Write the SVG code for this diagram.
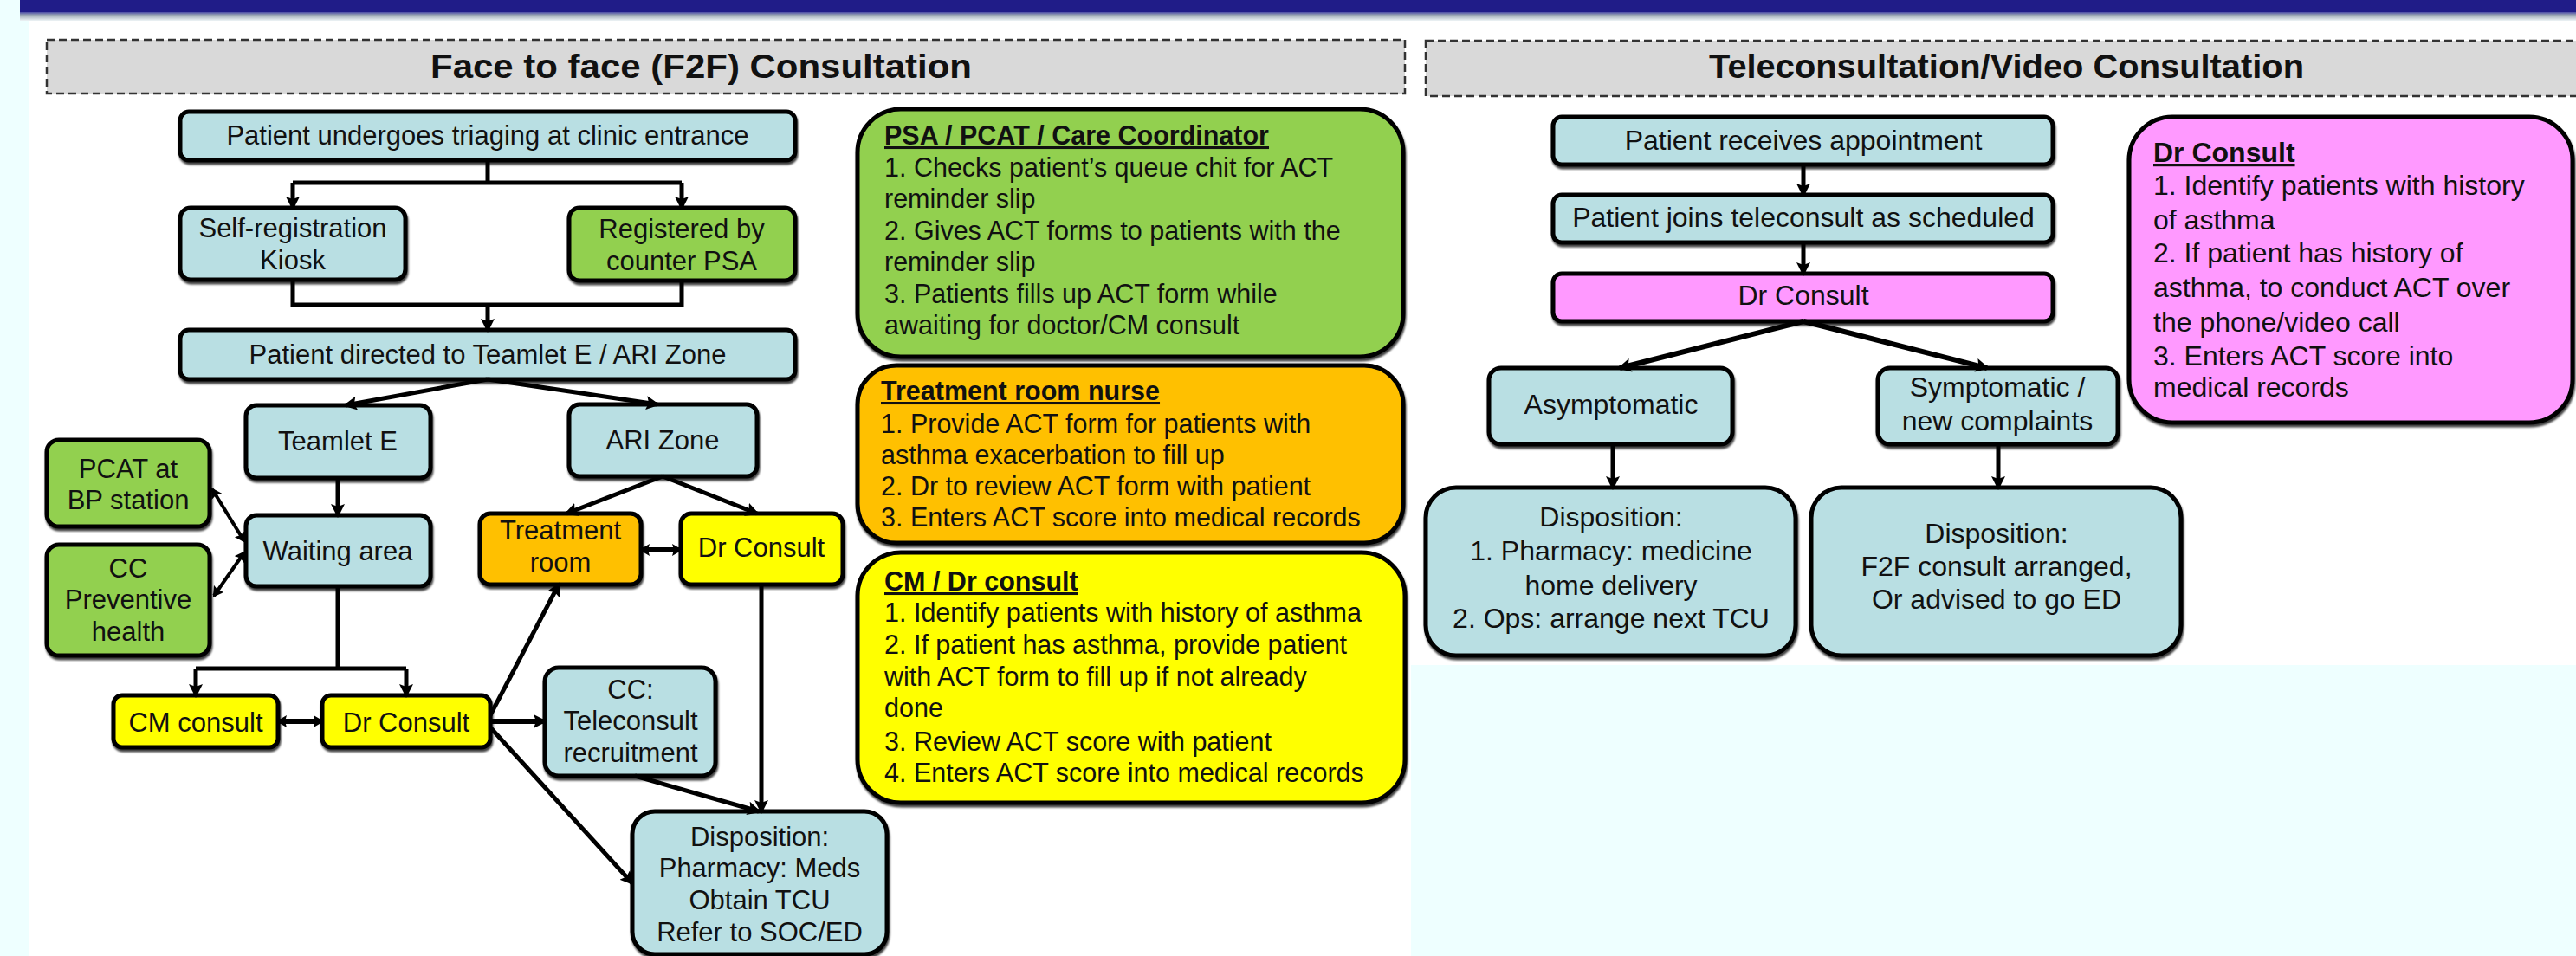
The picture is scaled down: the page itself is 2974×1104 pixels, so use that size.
<svg xmlns="http://www.w3.org/2000/svg" width="2974" height="1104" viewBox="0 0 2974 1104">
<defs>
<linearGradient id="barShade" x1="0" y1="0" x2="0" y2="1">
<stop offset="0" stop-color="#4a4aa6"/>
<stop offset="0.35" stop-color="#9aa6b4"/>
<stop offset="1" stop-color="#eef4f6"/>
</linearGradient>
<filter id="sh" x="-5%" y="-5%" width="110%" height="125%">
<feDropShadow dx="1" dy="3" stdDeviation="1" flood-color="#000" flood-opacity="0.75"/>
</filter>
<marker id="ah" viewBox="0 0 16 16" refX="13" refY="8" markerWidth="16" markerHeight="16" markerUnits="userSpaceOnUse" orient="auto-start-reverse">
<path d="M0,0 L16,8 L0,16 L3,8 z" fill="#000"/>
</marker>
<marker id="ah2" viewBox="0 0 12 14" refX="10" refY="7" markerWidth="12" markerHeight="14" markerUnits="userSpaceOnUse" orient="auto-start-reverse">
<path d="M0,0 L12,7 L0,14 L2,7 z" fill="#000"/>
</marker>
</defs>
<style>
.nd rect{stroke:#000;stroke-width:5;filter:url(#sh)}
.blue{fill:#B9DFE3}
.green{fill:#92D050}
.orange{fill:#FFC000}
.yellow{fill:#FFFF00}
.pink{fill:#FF99FF}
text{font-family:"Liberation Sans",Arial,sans-serif;fill:#111}
.t31{font-size:31px;text-anchor:middle}
.t32{font-size:32px;text-anchor:middle}
.tb{font-size:30.5px}
.tbr{font-size:32px}
.hd{font-weight:bold;text-decoration:underline}
.title{font-size:39px;font-weight:bold}
.hdr{fill:#D9D9D9;stroke:#333;stroke-width:2.5;stroke-dasharray:9 5}
.cn path{fill:none;stroke:#000;stroke-width:5}
.cn .thin{stroke-width:4}
.cn .thick{stroke-width:6}
.ae{marker-end:url(#ah)}
.ab{marker-start:url(#ah2);marker-end:url(#ah2)}
</style>

<!-- background -->
<rect x="0" y="0" width="2974" height="1104" fill="#EEFFFF"/>
<rect x="33" y="23" width="2941" height="1081" fill="#FFFFFF"/>
<rect x="1629" y="768" width="1345" height="336" fill="#EEFFFF"/>
<rect x="23" y="0" width="2951" height="16" fill="#201C88"/>
<rect x="23" y="14" width="2951" height="10" fill="url(#barShade)"/>

<!-- section headers -->
<g id="header-f2f">
<rect class="hdr" x="54" y="46" width="1568" height="62"/>
<text class="title" x="497" y="90" textLength="625" lengthAdjust="spacingAndGlyphs">Face to face (F2F) Consultation</text>
</g>
<g id="header-tele">
<rect class="hdr" x="1646" y="47" width="1340" height="64"/>
<text class="title" x="1973" y="90" textLength="687" lengthAdjust="spacingAndGlyphs">Teleconsultation/Video Consultation</text>
</g>

<!-- F2F nodes -->
<g id="n-triage" class="nd">
<rect class="blue" x="208" y="129" width="710" height="56" rx="10"/>
<text class="t31" x="563" y="167">Patient undergoes triaging at clinic entrance</text>
</g>
<g id="n-kiosk" class="nd">
<rect class="blue" x="208" y="240" width="260" height="83" rx="12"/>
<text class="t31" x="338" y="274">Self-registration</text>
<text class="t31" x="338" y="311">Kiosk</text>
</g>
<g id="n-counter" class="nd">
<rect class="green" x="657" y="240" width="261" height="84" rx="12"/>
<text class="t31" x="787" y="275">Registered by</text>
<text class="t31" x="787" y="312">counter PSA</text>
</g>
<g id="n-directed" class="nd">
<rect class="blue" x="208" y="381" width="710" height="57" rx="10"/>
<text class="t31" x="563" y="420">Patient directed to Teamlet E / ARI Zone</text>
</g>
<g id="n-teamlet" class="nd">
<rect class="blue" x="284" y="468" width="213" height="84" rx="12"/>
<text class="t31" x="390" y="520">Teamlet E</text>
</g>
<g id="n-ari" class="nd">
<rect class="blue" x="657" y="467" width="217" height="83" rx="12"/>
<text class="t31" x="765" y="519">ARI Zone</text>
</g>
<g id="n-pcat" class="nd">
<rect class="green" x="54" y="508" width="188" height="100" rx="14"/>
<text class="t31" x="148" y="552">PCAT at</text>
<text class="t31" x="148" y="588">BP station</text>
</g>
<g id="n-waiting" class="nd">
<rect class="blue" x="284" y="595" width="213" height="82" rx="12"/>
<text class="t31" x="390" y="647">Waiting area</text>
</g>
<g id="n-cc-prev" class="nd">
<rect class="green" x="54" y="629" width="188" height="128" rx="14"/>
<text class="t31" x="148" y="667">CC</text>
<text class="t31" x="148" y="703">Preventive</text>
<text class="t31" x="148" y="740">health</text>
</g>
<g id="n-treatment" class="nd">
<rect class="orange" x="554" y="593" width="186" height="82" rx="12"/>
<text class="t31" x="647" y="623">Treatment</text>
<text class="t31" x="647" y="660">room</text>
</g>
<g id="n-dr-ari" class="nd">
<rect class="yellow" x="786" y="593" width="187" height="82" rx="12"/>
<text class="t31" x="879" y="643">Dr Consult</text>
</g>
<g id="n-cm" class="nd">
<rect class="yellow" x="131" y="803" width="190" height="60" rx="10"/>
<text class="t31" x="226" y="845">CM consult</text>
</g>
<g id="n-dr-teamlet" class="nd">
<rect class="yellow" x="372" y="803" width="194" height="60" rx="10"/>
<text class="t31" x="469" y="845">Dr Consult</text>
</g>
<g id="n-cc-tele" class="nd">
<rect class="blue" x="629" y="771" width="197" height="125" rx="16"/>
<text class="t31" x="728" y="807">CC:</text>
<text class="t31" x="728" y="843">Teleconsult</text>
<text class="t31" x="728" y="880">recruitment</text>
</g>
<g id="n-disposition-f2f" class="nd">
<rect class="blue" x="730" y="937" width="294" height="165" rx="26"/>
<text class="t31" x="877" y="977">Disposition:</text>
<text class="t31" x="877" y="1013">Pharmacy: Meds</text>
<text class="t31" x="877" y="1050">Obtain TCU</text>
<text class="t31" x="877" y="1087">Refer to SOC/ED</text>
</g>

<!-- F2F role notes -->
<g id="note-psa" class="nd">
<rect class="green" x="990" y="126" width="630" height="286" rx="50"/>
<text class="tb hd" x="1021" y="167">PSA / PCAT / Care Coordinator</text>
<text class="tb" x="1021" y="203.5">1. Checks patient’s queue chit for ACT</text>
<text class="tb" x="1021" y="240">reminder slip</text>
<text class="tb" x="1021" y="276.5">2. Gives ACT forms to patients with the</text>
<text class="tb" x="1021" y="313">reminder slip</text>
<text class="tb" x="1021" y="349.5">3. Patients fills up ACT form while</text>
<text class="tb" x="1021" y="386">awaiting for doctor/CM consult</text>
</g>
<g id="note-nurse" class="nd">
<rect class="orange" x="990" y="422" width="630" height="205" rx="45"/>
<text class="tb hd" x="1017" y="462">Treatment room nurse</text>
<text class="tb" x="1017" y="500">1. Provide ACT form for patients with</text>
<text class="tb" x="1017" y="536">asthma exacerbation to fill up</text>
<text class="tb" x="1017" y="572">2. Dr to review ACT form with patient</text>
<text class="tb" x="1017" y="608">3. Enters ACT score into medical records</text>
</g>
<g id="note-cm-dr" class="nd">
<rect class="yellow" x="990" y="638" width="632" height="289" rx="50"/>
<text class="tb hd" x="1021" y="682">CM / Dr consult</text>
<text class="tb" x="1021" y="718">1. Identify patients with history of asthma</text>
<text class="tb" x="1021" y="755">2. If patient has asthma, provide patient</text>
<text class="tb" x="1021" y="792">with ACT form to fill up if not already</text>
<text class="tb" x="1021" y="828">done</text>
<text class="tb" x="1021" y="867">3. Review ACT score with patient</text>
<text class="tb" x="1021" y="903">4. Enters ACT score into medical records</text>
</g>

<!-- Teleconsult nodes -->
<g id="t-appointment" class="nd">
<rect class="blue" x="1793" y="135" width="577" height="55" rx="10"/>
<text class="t32" x="2082" y="173">Patient receives appointment</text>
</g>
<g id="t-joins" class="nd">
<rect class="blue" x="1793" y="225" width="577" height="55" rx="10"/>
<text class="t32" x="2082" y="262">Patient joins teleconsult as scheduled</text>
</g>
<g id="t-dr" class="nd">
<rect class="pink" x="1793" y="316" width="577" height="55" rx="10"/>
<text class="t32" x="2082" y="352">Dr Consult</text>
</g>
<g id="t-asym" class="nd">
<rect class="blue" x="1719" y="425" width="281" height="88" rx="14"/>
<text class="t32" x="1860" y="478">Asymptomatic</text>
</g>
<g id="t-sym" class="nd">
<rect class="blue" x="2168" y="425" width="277" height="88" rx="14"/>
<text class="t32" x="2306" y="458">Symptomatic /</text>
<text class="t32" x="2306" y="497">new complaints</text>
</g>
<g id="t-disp-asym" class="nd">
<rect class="blue" x="1646" y="563" width="427" height="194" rx="35"/>
<text class="t32" x="1860" y="608">Disposition:</text>
<text class="t32" x="1860" y="647">1. Pharmacy: medicine</text>
<text class="t32" x="1860" y="687">home delivery</text>
<text class="t32" x="1860" y="725">2. Ops: arrange next TCU</text>
</g>
<g id="t-disp-sym" class="nd">
<rect class="blue" x="2091" y="563" width="427" height="194" rx="35"/>
<text class="t32" x="2305" y="627">Disposition:</text>
<text class="t32" x="2305" y="665">F2F consult arranged,</text>
<text class="t32" x="2305" y="703">Or advised to go ED</text>
</g>
<g id="note-tele-dr" class="nd">
<rect class="pink" x="2458" y="135" width="512" height="353" rx="50"/>
<text class="tbr hd" x="2486" y="187">Dr Consult</text>
<text class="tbr" x="2486" y="225">1. Identify patients with history</text>
<text class="tbr" x="2486" y="265">of asthma</text>
<text class="tbr" x="2486" y="303">2. If patient has history of</text>
<text class="tbr" x="2486" y="343">asthma, to conduct ACT over</text>
<text class="tbr" x="2486" y="383">the phone/video call</text>
<text class="tbr" x="2486" y="422">3. Enters ACT score into</text>
<text class="tbr" x="2486" y="458">medical records</text>
</g>

<!-- connectors -->
<g id="connectors" class="cn">
<path d="M563,185 V211 M338,211 H787"/>
<path class="ae" d="M338,211 V240"/>
<path class="ae" d="M787,211 V240"/>
<path d="M338,323 V352 H787 V324"/>
<path class="ae" d="M563,352 V381"/>
<path class="ae" d="M563,438 L399,468"/>
<path class="ae" d="M563,438 L759,467"/>
<path class="ae" d="M390,552 V595"/>
<path class="thin ab" d="M245,565 L282,625"/>
<path class="thin ab" d="M247,688 L282,638"/>
<path class="ae" d="M765,550 L654,593"/>
<path class="ae" d="M765,550 L874,593"/>
<path class="thick ab" d="M740,635 H786"/>
<path d="M390,677 V772 M226,772 H469"/>
<path class="ae" d="M226,772 V803"/>
<path class="ae" d="M469,772 V803"/>
<path class="thick ab" d="M321,833 H372"/>
<path class="thick ae" d="M566,833 H629"/>
<path class="ae" d="M566,826 L645,675"/>
<path class="ae" d="M566,840 L730,1020"/>
<path class="ae" d="M733,896 L876,937"/>
<path class="ae" d="M879,675 V937"/>
<path class="ae" d="M2082,190 V225"/>
<path class="ae" d="M2082,280 V316"/>
<path class="thick ae" d="M2082,371 L1870,425"/>
<path class="thick ae" d="M2082,371 L2294,425"/>
<path class="ae" d="M1862,513 V563"/>
<path class="ae" d="M2307,513 V563"/>
</g>
</svg>
